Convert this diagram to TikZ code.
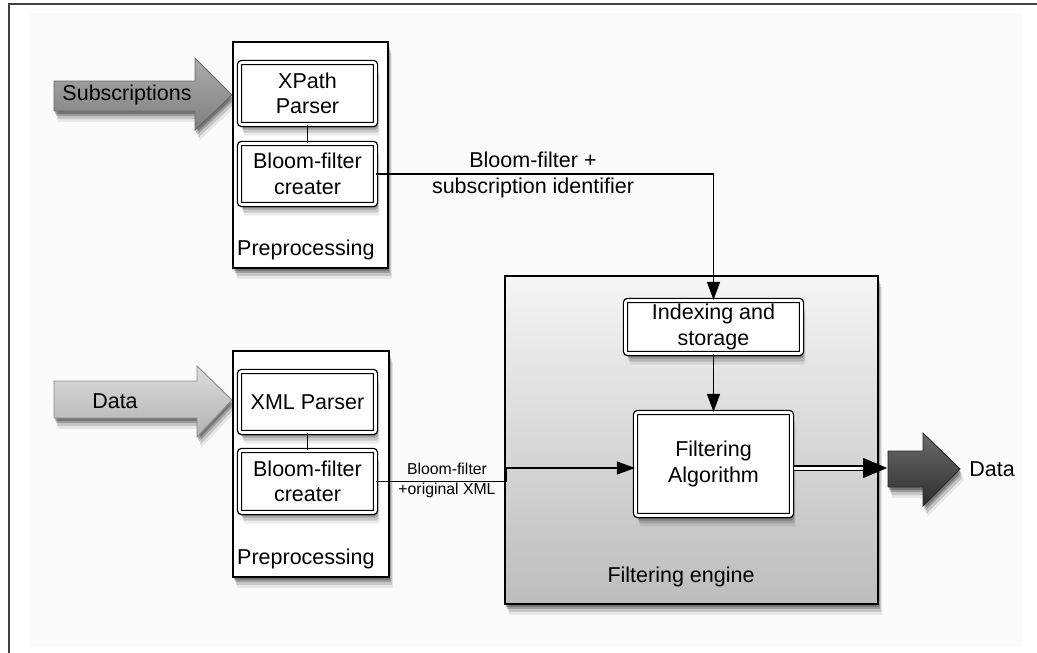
\documentclass[tikz,border=0pt]{standalone}
\usepackage{fontspec}
\setmainfont{Liberation Sans}
\usetikzlibrary{shadows,arrows.meta}

\begin{document}
\begin{tikzpicture}[x=1pt,y=-1pt,
  every node/.style={font=\fontsize{21.5}{25.5}\selectfont, inner sep=0pt, align=center},
  soft/.style={
    general shadow={shadow xshift=1pt,shadow yshift=-3pt,opacity=.25,fill=black},
    general shadow={shadow xshift=2pt,shadow yshift=-5pt,opacity=.2,fill=black},
    general shadow={shadow xshift=3pt,shadow yshift=-8pt,opacity=.14,fill=black},
    general shadow={shadow xshift=4pt,shadow yshift=-11pt,opacity=.08,fill=black}},
  group/.style={draw, line width=1.4pt, fill=white, soft},
  unit/.style={draw, double, double distance=2.6pt, line width=1.3pt, fill=white,
    rounded corners=2pt, soft},
  link/.style={line width=1.4pt},
  flow/.style={line width=1.4pt, -{Triangle[length=18pt,width=13pt]}},
  small/.style={font=\fontsize{15.8}{20}\selectfont},
]
\useasboundingbox (0,0) rectangle (1037,653);

% page frame and faint backdrop
\fill[white] (0,0) rectangle (1037,653);
\fill[black!1.5] (30,13) rectangle (1022,647);
\draw[black!75, line width=1.4pt] (9,653) -- (9,4) -- (1037,4);

% input arrows
\path[draw=black!60, line width=0.9pt, top color=black!33, bottom color=black!50, soft]
  (54,81) -- (195,81) -- (195,58) -- (232,95) -- (195,130) -- (195,111) -- (54,111) -- cycle;
\node (subs) at (127,95) {Subscriptions};

\path[draw=black!45, line width=0.9pt, top color=black!14, bottom color=black!30, soft]
  (54,381) -- (197,381) -- (197,366) -- (232,400) -- (197,437) -- (197,418) -- (54,418) -- cycle;
\node (din) at (115,401) {Data};

% subscription preprocessing
\node[group, minimum width=155pt, minimum height=226pt] (pre1) at (310.5,155) {};
\node[anchor=west] (pre1lab) at (237,250) {Preprocessing};
\node[unit, minimum width=136pt, minimum height=62pt] (xpath) at (307.5,93.5) {XPath\\Parser};
\node[unit, minimum width=136pt, minimum height=61pt] (bf1) at (307.5,174) {Bloom-filter\\creater};

% data preprocessing
\node[group, minimum width=156pt, minimum height=226pt] (pre2) at (311,464) {};
\node[anchor=west] (pre2lab) at (237,559) {Preprocessing};
\node[unit, minimum width=136pt, minimum height=61pt] (xml) at (307.5,402) {XML Parser};
\node[unit, minimum width=136pt, minimum height=62pt] (bf2) at (307.5,481.5) {Bloom-filter\\creater};

% filtering engine
\node[draw, line width=1.4pt, top color=black!4, bottom color=black!26, soft,
  minimum width=373pt, minimum height=328pt] (engine) at (691.5,440) {};
\node (englab) at (681,577) {Filtering engine};
\node[unit, minimum width=176pt, minimum height=53pt] (idx) at (713.5,327) {Indexing and\\storage};
\node[unit, minimum width=156pt, minimum height=103pt] (falg) at (713.5,464) {Filtering\\Algorithm};

% output arrow
\path[draw=black!85, line width=0.9pt, top color=black!58, middle color=black!38, bottom color=black!82, soft]
  (888,451) -- (923,451) -- (923,433) -- (960,469) -- (923,506) -- (923,487) -- (888,487) -- cycle;
\node (dout) at (992,469) {Data};

% connectors
\draw[link] (xpath.south) -- (bf1.north);
\draw[link] (xml.south) -- (bf2.north);
\draw[flow] (bf1.east) -| (idx.north);
\node (sublab) at (533,175) {Bloom-filter +\\subscription identifier};
\draw[flow] (idx.south) -- (falg.north);
\coordinate (bend) at (506,468);
\draw[flow] (bf2.east) -| (bend) -- (bend -| falg.west);
\node[small] (datlab) at (447,480) {Bloom-filter\\+original XML};
\coordinate (outend) at (887,468);
\draw[line width=5.4pt, -{Triangle[length=24pt,width=20pt,line width=0.4pt]}]
  ([xshift=2pt]falg.east |- outend) -- (outend);
\draw[white, line width=3pt, shorten >=24pt]
  ([xshift=2pt]falg.east |- outend) -- (outend);
\end{tikzpicture}
\end{document}
